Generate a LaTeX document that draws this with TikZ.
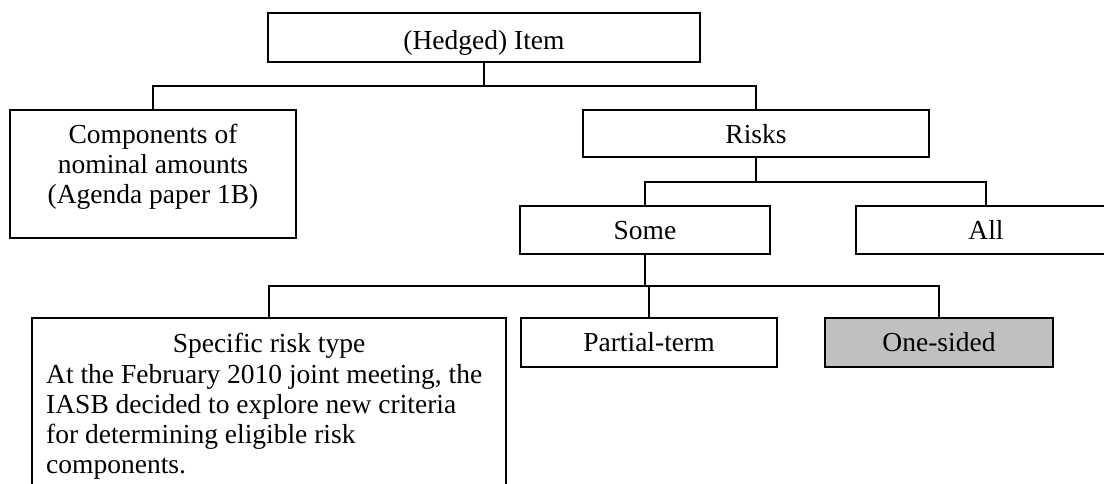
\documentclass[tikz,border=0pt]{standalone}
\usepackage{fontspec}
\setmainfont{Liberation Serif}
\begin{document}
\begin{tikzpicture}[x=1pt,y=-1pt,
  box/.style={draw, rectangle, inner sep=0pt, outer sep=0pt, anchor=north west, line width=2pt},
  conn/.style={line width=2pt},
  txt/.style={anchor=base, inner sep=0pt, font=\fontsize{27.5}{30}\selectfont},
  txtl/.style={anchor=base west, inner sep=0pt, font=\fontsize{27.5}{30}\selectfont}]
\useasboundingbox (0,0) rectangle (1104,483);
\clip (0,0) rectangle (1104,483);
% boxes
\node[box, minimum width=432pt, minimum height=49pt] (item) at (268,13) {};
\node[box, minimum width=286pt, minimum height=128pt] (comp) at (10,110) {};
\node[box, minimum width=346pt, minimum height=47pt] (risks) at (583,110) {};
\node[box, minimum width=250pt, minimum height=48pt] (some) at (520,206) {};
\node[box, minimum width=260pt, minimum height=48pt] (all) at (856,206) {};
\node[box, minimum width=474pt, minimum height=200pt] (spec) at (32,318) {};
\node[box, minimum width=256pt, minimum height=49pt] (part) at (521,318) {};
\node[box, minimum width=228pt, minimum height=49pt, fill={rgb,255:red,192;green,192;blue,192}] (one) at (825,318) {};
% texts
\node[txt] (itemt) at (484,49) {(Hedged) Item};
\node[txt] (comp1) at (153,143) {Components of};
\node[txt] (comp2) at (153,173) {nominal amounts};
\node[txt] (comp3) at (153,203) {(Agenda paper 1B)};
\node[txt] (riskst) at (756,143.5) {Risks};
\node[txt] (somet) at (645,239) {Some};
\node[txt] (allt) at (986,239) {All};
\node[txt] (partt) at (649,351) {Partial-term};
\node[txt] (onet) at (939,351) {One-sided};
\node[txt] (spect) at (269,352) {Specific risk type};
\node[txtl] (spec1) at (46,383) {At the February 2010 joint meeting, the};
\node[txtl] (spec2) at (46,413) {IASB decided to explore new criteria};
\node[txtl] (spec3) at (46,443) {for determining eligible risk};
\node[txtl] (spec4) at (46,473) {components.};
% connectors
\coordinate (j1) at (484,86);
\coordinate (j2) at (756,182);
\coordinate (j3) at (645,286);
\draw[conn] (item.south) -- (j1);
\draw[conn] (comp.north) |- (j1) -| (risks.north);
\draw[conn] (risks.south) -- (j2);
\draw[conn] (some.north) |- (j2) -| (all.north);
\draw[conn] (some.south) -- (j3);
\draw[conn] (spec.north) |- (j3) -| (one.north);
\draw[conn] (part.north) -- (part.north |- j3);
\end{tikzpicture}
\end{document}
